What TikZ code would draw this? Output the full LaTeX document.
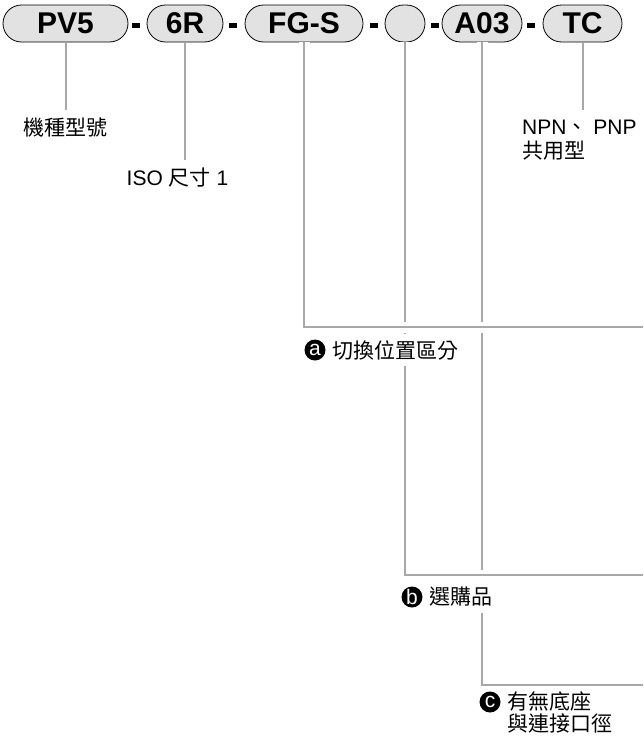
\documentclass[tikz,border=0pt]{standalone}
\usepackage{fontspec}
\setmainfont{Liberation Sans}
\newfontfamily\cjk{Noto Sans CJK TC}
\usepackage{tikz}
\usetikzlibrary{positioning}
\definecolor{pillgray}{HTML}{E2E2E2}
\definecolor{leadgray}{HTML}{A8A8A8}
\newcommand{\zh}[1]{{\cjk #1}}

\begin{document}
\begin{tikzpicture}[x=1pt, y=-1pt, every node/.style={font=\fontsize{21}{20}\selectfont},
  pill/.style={draw, fill=pillgray, rounded corners=18.5pt, minimum height=37pt, inner sep=0pt,
    line width=0.8pt, font=\fontsize{30}{30}\selectfont\bfseries},
  hyph/.style={fill, minimum width=8pt, minimum height=5pt, inner sep=0pt},
  lead/.style={draw=leadgray, line width=2pt},
  halo/.style={lead, preaction={draw=white, line width=11pt}},
  lbl/.style={inner xsep=3pt, inner ysep=10pt, text height=15pt, text depth=4pt},
  note/.style={inner xsep=3pt, inner ysep=10pt, align=left, font=\fontsize{21}{24}\selectfont},
  tag/.style={fill=white, inner xsep=3pt, inner ysep=6pt, align=left, font=\fontsize{21}{21.5}\selectfont\cjk},
  ball/.style={circle, fill, text=white, minimum size=21pt, inner sep=0pt, font=\fontsize{21}{21}\selectfont}]
\useasboundingbox (0,0) rectangle (643,742);
\node[pill, minimum width=125pt] (pv) at (65.5,23.5) {PV5};
\node[pill, minimum width=76pt] (sz) at (185,23.5) {6R};
\node[pill, minimum width=118pt] (sw) at (304,23.5) {FG-S};
\node[pill, minimum width=40pt] (opt) at (405,23.5) {};
\node[pill, minimum width=80pt] (port) at (482,23.5) {A03};
\node[pill, minimum width=79pt] (com) at (582.5,23.5) {TC};
\node[hyph] (d1) at (136,25) {};
\node[hyph] (d2) at (233,25) {};
\node[hyph] (d3) at (373.5,25) {};
\node[hyph] (d4) at (434.5,25) {};
\node[hyph] (d5) at (531,25) {};

\node[lbl, anchor=base] (lpv) at (65.5,135.5) {\zh{機種型號}};
\node[lbl, anchor=base] (lsz) at (177.5,185.5) {ISO \zh{尺寸} 1};
\node[note, anchor=north west] (lcom) at (519,110) {NPN\zh{、} PNP\\\zh{共用型}};
\draw[lead] (pv.south) -- (lpv);
\draw[lead] (sz.south) -- (sz.south |- lsz.north);
\draw[lead] (com.south) -- (com.south |- lcom.north);

\coordinate (ea) at (643,327);
\coordinate (eb) at (643,575);
\coordinate (ec) at (643,685);
\draw[halo] (port.south) |- (ec);
\draw[halo] (opt.south) |- (eb);
\draw[halo] (sw.south) |- (ea);

\node[ball] (ka) at (315,350) {a};
\node[ball] (kb) at (412,597) {b};
\node[ball] (kc) at (490,702) {c};
\node[tag, right=4pt of ka] (la) {切換位置區分};
\node[tag, right=4pt of kb] (lb) {選購品};
\node[tag, right=4pt of kc, yshift=-10.5pt] (lc) {有無底座\\與連接口徑};
\end{tikzpicture}
\end{document}
